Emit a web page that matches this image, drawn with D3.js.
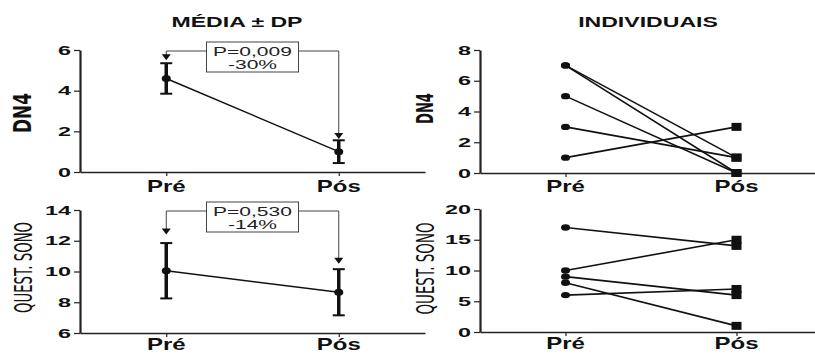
<!DOCTYPE html>
<html><head><meta charset="utf-8">
<script src="https://cdn.jsdelivr.net/npm/d3@7"></script>
<style>
html,body{margin:0;padding:0;background:#fff;}
svg{display:block;font-family:"Liberation Sans",Arial,sans-serif;}
</style></head>
<body><svg id="c" width="815" height="354"></svg>
<script>
// ---- data ----
const categories = ["Pré", "Pós"];
const dn4Mean = [4.6, 1.0];
const dn4SD = [0.75, 0.56];
const dn4Arrow = [5.5, 1.62];
const dn4Stat = ["P=0,009", "-30%"];
const sonoMean = [10.05, 8.65];
const sonoSD = [1.8, 1.5];
const sonoArrow = [12.4, 10.5];
const sonoStat = ["P=0,530", "-14%"];
const dn4Pre = [7, 7, 5, 3, 1];
const dn4Pos = [1, 0, 0, 1, 3];
const sonoPre = [17, 10, 9, 8, 6];
const sonoPos = [14, 15, 6, 1, 7];
const dn4TicksMean = [0, 2, 4, 6];
const dn4TicksInd = [0, 2, 4, 6, 8];
const sonoTicksMean = [6, 8, 10, 12, 14];
const sonoTicksInd = [0, 5, 10, 15, 20];
const titles = ["MÉDIA ± DP", "INDIVIDUAIS"];
const yTitles = ["DN4", "QUEST. SONO"];

const svg = d3.select("#c");

function stretchText(g, str, x, y, size, sx, opts = {}) {
  return g.append("text")
    .attr("transform", `translate(${x},${y}) scale(${sx},1)`)
    .attr("text-anchor", opts.anchor || "middle")
    .attr("font-size", size)
    .attr("font-weight", opts.weight || "bold")
    .attr("fill", opts.fill || "#111")
    .text(str);
}

function panel(cfg) {
  const g = svg.append("g");
  const x = d3.scalePoint().domain(categories).range([cfg.x0, cfg.x1]).padding(0.5);
  const y = d3.scaleLinear().domain(cfg.domain).range([cfg.yBot, cfg.yTop]);

  // x axis
  const xa = g.append("g").attr("transform", `translate(0,${cfg.yBot})`)
    .call(d3.axisBottom(x).tickSize(4).tickSizeOuter(0));
  xa.select(".domain").attr("stroke", "#222").attr("stroke-width", 1.6);
  xa.selectAll(".tick line").attr("stroke", "#222").attr("stroke-width", 1.2);
  xa.selectAll(".tick text").remove();
  categories.forEach(c => stretchText(g, c, x(c), cfg.yBot + cfg.xLabGap, 16, 1.5));

  // y axis
  const ya = g.append("g").attr("transform", `translate(${cfg.x0},0)`)
    .call(d3.axisLeft(y).tickValues(cfg.ticks).tickFormat(d3.format("d")).tickSize(6).tickSizeOuter(0));
  ya.select(".domain").attr("stroke", "#222").attr("stroke-width", 2.2);
  ya.selectAll(".tick line").attr("stroke", "#222").attr("stroke-width", 1.2);
  ya.selectAll(".tick text")
    .attr("x", 0)
    .attr("transform", "translate(-9,0) scale(1.8,1)")
    .attr("font-size", 13)
    .attr("font-weight", "bold")
    .attr("font-family", "'Liberation Sans',Arial,sans-serif")
    .attr("fill", "#111");

  // y title
  g.append("text")
    .attr("transform", `translate(${cfg.yTitleX},${(cfg.yTop + cfg.yBot) / 2 + cfg.yTitleDy}) rotate(-90)`)
    .attr("text-anchor", "middle")
    .attr("font-family", "'Liberation Sans Narrow','DejaVu Sans Condensed',sans-serif")
    .attr("font-size", cfg.yTitleSize)
    .attr("font-weight", cfg.yTitleWeight)
    .attr("textLength", cfg.yTitleLen)
    .attr("lengthAdjust", "spacingAndGlyphs")
    .attr("fill", "#111")
    .text(cfg.yTitle);

  return { g, x, y };
}

function meanPanel(cfg, mean, sd, arrow, stat) {
  const { g, x, y } = panel(cfg);
  const xs = categories.map(c => x(c));
  // bracket
  const by = y(cfg.domain[1]) + 1;
  g.append("path")
    .attr("d", `M${xs[0]},${y(arrow[0]) - 5}V${by}H${xs[1]}V${y(arrow[1]) - 5}`)
    .attr("fill", "none").attr("stroke", "#444").attr("stroke-width", 1);
  arrow.forEach((a, i) => {
    const ty = y(a);
    g.append("path").attr("d", `M${xs[i] - 4.5},${ty - 6}H${xs[i] + 4.5}L${xs[i]},${ty}Z`).attr("fill", "#111");
  });
  // box
  const bx = (xs[0] + xs[1]) / 2;
  g.append("rect").attr("x", bx - 46).attr("y", by - 9).attr("width", 92).attr("height", 30)
    .attr("fill", "#fff").attr("stroke", "#444").attr("stroke-width", 1);
  stretchText(g, stat[0], bx, by + 4.5, 12.5, 1.68, { weight: "normal", fill: "#222" });
  stretchText(g, stat[1], bx, by + 17.5, 12.5, 1.68, { weight: "normal", fill: "#222" });
  // mean line
  g.append("path").attr("d", d3.line()(categories.map((c, i) => [x(c), y(mean[i])])))
    .attr("fill", "none").attr("stroke", "#111").attr("stroke-width", 1.5);
  // error bars
  categories.forEach((c, i) => {
    const cx = x(c);
    g.append("line").attr("x1", cx).attr("x2", cx).attr("y1", y(mean[i] - sd[i])).attr("y2", y(mean[i] + sd[i]))
      .attr("stroke", "#111").attr("stroke-width", 3.5);
    [mean[i] - sd[i], mean[i] + sd[i]].forEach(v => {
      g.append("line").attr("x1", cx - 6).attr("x2", cx + 6).attr("y1", y(v)).attr("y2", y(v))
        .attr("stroke", "#111").attr("stroke-width", 2);
    });
    g.append("ellipse").attr("cx", cx).attr("cy", y(mean[i])).attr("rx", 4.5).attr("ry", 3.5).attr("fill", "#111");
  });
}

function indPanel(cfg, pre, pos) {
  const { g, x, y } = panel(cfg);
  const x0 = x(categories[0]), x1 = x(categories[1]);
  pre.forEach((v, i) => {
    g.append("line").attr("x1", x0).attr("y1", y(v)).attr("x2", x1).attr("y2", y(pos[i]))
      .attr("stroke", "#111").attr("stroke-width", 1.6);
  });
  pre.forEach(v => g.append("ellipse").attr("cx", x0).attr("cy", y(v)).attr("rx", 4.5).attr("ry", 3.2).attr("fill", "#111"));
  pos.forEach(v => g.append("rect").attr("x", x1 - 5).attr("y", y(v) - 4).attr("width", 10).attr("height", 8).attr("fill", "#111"));
}

meanPanel({ x0: 80, x1: 425, yTop: 50, yBot: 172, domain: [0, 6], ticks: dn4TicksMean, xLabGap: 20,
  yTitle: yTitles[0], yTitleX: 31, yTitleDy: 2, yTitleSize: 25, yTitleWeight: "bold", yTitleLen: 40 }, dn4Mean, dn4SD, dn4Arrow, dn4Stat);
indPanel({ x0: 480, x1: 822, yTop: 50, yBot: 173, domain: [0, 8], ticks: dn4TicksInd, xLabGap: 19,
  yTitle: yTitles[0], yTitleX: 433, yTitleDy: -3, yTitleSize: 23, yTitleWeight: "bold", yTitleLen: 31 }, dn4Pre, dn4Pos);
meanPanel({ x0: 80, x1: 425, yTop: 210, yBot: 333, domain: [6, 14], ticks: sonoTicksMean, xLabGap: 17,
  yTitle: yTitles[1], yTitleX: 32, yTitleDy: -4, yTitleSize: 24, yTitleWeight: "normal", yTitleLen: 91 }, sonoMean, sonoSD, sonoArrow, sonoStat);
indPanel({ x0: 480, x1: 822, yTop: 209, yBot: 332, domain: [0, 20], ticks: sonoTicksInd, xLabGap: 17,
  yTitle: yTitles[1], yTitleX: 434, yTitleDy: -2, yTitleSize: 24, yTitleWeight: "normal", yTitleLen: 92 }, sonoPre, sonoPos);

// panel titles
stretchText(svg, titles[0], 237, 27, 14, 1.65);
stretchText(svg, titles[1], 648, 27, 14, 1.65);
</script></body></html>
